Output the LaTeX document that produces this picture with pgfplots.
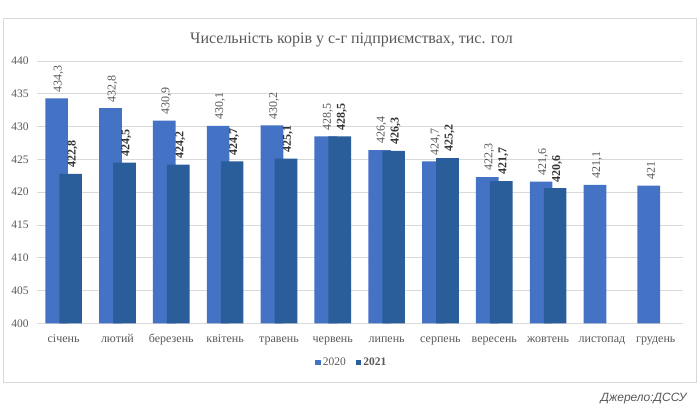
\documentclass[border=0pt]{standalone}
\usepackage{pgfplots}
\pgfplotsset{compat=1.18}
\usepackage{fontspec}
\setmainfont{Liberation Serif}
\newfontfamily\srcfont{Liberation Sans}
\definecolor{c20}{HTML}{4472C4}
\definecolor{c21}{HTML}{2A5E9A}
\definecolor{txt}{HTML}{595959}
\definecolor{grd}{HTML}{D9D9D9}
\begin{document}
\begin{tikzpicture}[x=1pt,y=1pt]
\path[use as bounding box, fill=white] (0,0) rectangle (700,408);
\draw[grd, line width=0.8pt] (3.3,25.3) rectangle (696.7,389.7);
\node[anchor=base, text=txt, font=\fontsize{16}{19}\selectfont, inner sep=0pt] at (351.5,364.7) {Чисельність корів у с-г підприємствах, тис. гол};
\node[anchor=base east, text=txt, font=\srcfont\itshape\fontsize{12}{14}\selectfont, inner sep=0pt] at (686.7,7) {Джерело:ДССУ};
\begin{axis}[at={(36.7pt,84.7pt)}, anchor=south west, scale only axis,
  width=646pt, height=262.3pt,
  ybar, bar width=0.42,
  xmin=-0.5, xmax=11.5, ymin=400, ymax=440,
  ytick={400,405,...,440},
  xtick={0,...,11},
  xticklabels={січень,лютий,березень,квітень,травень,червень,липень,серпень,вересень,жовтень,листопад,грудень},
  axis line style={draw=none}, major tick length=0pt,
  ymajorgrids, grid style={grd, line width=0.8pt},
  /pgf/number format/.cd, use comma, 1000 sep={}, assume math mode=true,
  /pgfplots/.cd,
  yticklabel style={text=txt, font=\fontsize{11.5}{13}\selectfont, inner sep=0pt, xshift=-8pt},
  xticklabel style={text=txt, font=\fontsize{12}{14}\selectfont, inner sep=0pt, anchor=base, yshift=-19pt},
  legend style={at={(0.488,-0.151)}, anchor=center, draw=none, legend columns=2,
    font=\fontsize{11.5}{13}\selectfont, text=txt,
    /tikz/every even column/.append style={column sep=8pt}},
  legend image code/.code={\fill[#1] (0pt,-2.5pt) rectangle (5.5pt,3pt);},
  nodes near coords,
  every node near coord/.append style={rotate=90, anchor=west, inner sep=0pt, xshift=6pt, yshift=-2pt, font=\fontsize{12}{14}\selectfont},
]
\addplot[fill=c20, draw=none, bar shift=-0.13, every node near coord/.append style={text=txt}] coordinates {
(0,434.3) (1,432.8) (2,430.9) (3,430.1) (4,430.2) (5,428.5) (6,426.4) (7,424.7) (8,422.3) (9,421.6) (10,421.1) (11,421)};
\addlegendentry{2020}
\addplot[fill=c21, draw=none, bar shift=0.13, every node near coord/.append style={text=black!80, font=\bfseries\fontsize{12}{14}\selectfont}] coordinates {
(0,422.8) (1,424.5) (2,424.2) (3,424.7) (4,425.1) (5,428.5) (6,426.3) (7,425.2) (8,421.7) (9,420.6)};
\addlegendentry{\textbf{2021}}
\end{axis}
\end{tikzpicture}
\end{document}
